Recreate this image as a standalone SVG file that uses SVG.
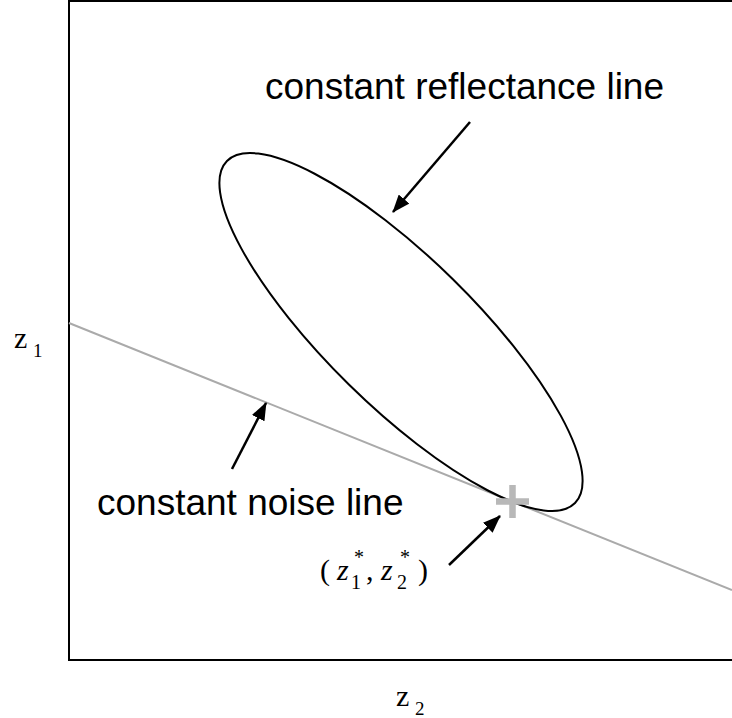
<svg xmlns="http://www.w3.org/2000/svg" width="732" height="718" viewBox="0 0 732 718">
<defs>
<marker id="ah" markerWidth="18" markerHeight="14" refX="17" refY="7" orient="auto" markerUnits="userSpaceOnUse"><path d="M0,0 L18,7 L0,14 Z" fill="#000"/></marker>
</defs>
<style>
.sans{font-family:"Liberation Sans",Arial,sans-serif;font-size:37px;fill:#000}
.serif{font-family:"Liberation Serif","Times New Roman",serif;fill:#000}
.it{font-style:italic}
.arr{stroke:#000;stroke-width:2.5;fill:none}
</style>
<rect width="732" height="718" fill="#fff"/>
<g id="frame"><rect x="69" y="1" width="668" height="659" fill="none" stroke="#000" stroke-width="2"/></g>
<g id="noise-line"><line x1="69" y1="323" x2="732" y2="590" stroke="#aaa" stroke-width="2"/></g>
<g id="ellipse"><ellipse cx="401" cy="332" rx="244" ry="74" transform="rotate(44.5 401 332)" fill="none" stroke="#000" stroke-width="2"/></g>
<g id="point"><path d="M496,501.5 H529 M512.5,485 V518" stroke="#b8b8b8" stroke-width="6.5"/></g>
<g id="connectors">
<line class="arr" x1="470" y1="122" x2="393" y2="212" marker-end="url(#ah)"/>
<line class="arr" x1="232" y1="469" x2="266" y2="403" marker-end="url(#ah)"/>
<line class="arr" x1="449" y1="565" x2="500" y2="516" marker-end="url(#ah)"/>
</g>
<g id="labels">
<text class="sans" x="265" y="99">constant reflectance line</text>
<text class="sans" x="97" y="515">constant noise line</text>
<g id="point-label" class="serif" font-size="30">
<text x="320" y="580">(</text>
<text class="it" x="337" y="580">z</text>
<text x="351" y="589" font-size="20">1</text>
<text x="354" y="564" font-size="20">*</text>
<text x="366" y="580">,</text>
<text class="it" x="381" y="580">z</text>
<text x="397" y="589" font-size="20">2</text>
<text x="400" y="564" font-size="20">*</text>
<text x="418" y="580">)</text>
</g>
<text class="serif" x="14" y="348" font-size="30">z</text>
<text class="serif" x="33" y="357" font-size="19">1</text>
<text class="serif" x="396" y="706" font-size="30">z</text>
<text class="serif" x="415" y="715" font-size="19">2</text>
</g>
</svg>
